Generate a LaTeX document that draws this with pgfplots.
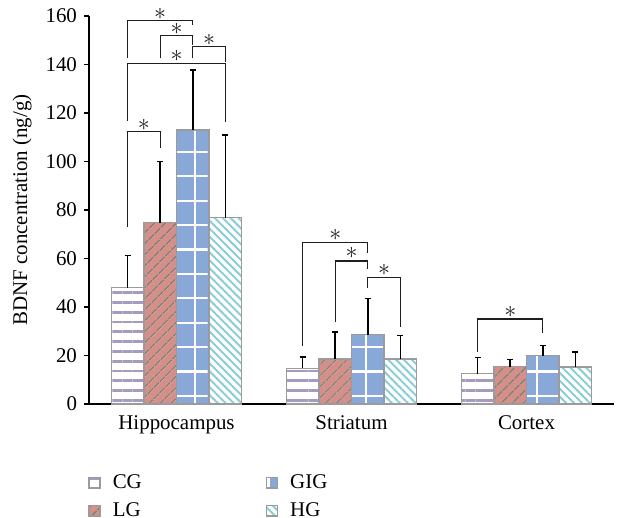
\documentclass[border=0pt]{standalone}
\usepackage{fontspec}
\setmainfont{Liberation Serif}
\usepackage{pgfplots}
\pgfplotsset{compat=1.18}
\usetikzlibrary{patterns.meta}
\definecolor{cgline}{RGB}{167,154,193}
\definecolor{lgfill}{RGB}{212,143,136}
\definecolor{lgline}{RGB}{128,128,128}
\definecolor{gigfill}{RGB}{136,168,216}
\definecolor{hgline}{RGB}{140,205,214}
\definecolor{bord}{RGB}{155,155,155}
\definecolor{brk}{RGB}{30,30,30}
\begin{document}
\begin{tikzpicture}
\path[use as bounding box] (-44.5bp,-57bp) rectangle (264bp,202bp);
\begin{axis}[
  at={(0,0)}, anchor=south west,
  scale only axis, width=262.5bp, height=194bp,
  xmin=-0.5, xmax=2.5, ymin=0, ymax=160,
  clip=false,
  axis lines*=left,
  axis line style={line width=0.6bp, black},
  xtick={0,1,2}, xticklabels={Hippocampus,Striatum,Cortex},
  x tick style={draw=none},
  ytick={0,20,...,160},
  tick align=outside, major tick length=2.5bp,
  y tick style={line width=0.6bp, black},
  font=\fontsize{10.5}{12}\selectfont,
  /pgf/number format/assume math mode=true,
  ylabel={BDNF concentration (ng/g)},
  ylabel style={at={(axis description cs:-0.1276,0.5)}, anchor=center},
  bar width=0.186,
  ybar=0pt, bar shift=0pt,
  error bars/y dir=plus, error bars/y explicit,
  error bars/error mark=-,
  error bars/error bar style={line width=0.75bp, black, solid},
  error bars/error mark options={line width=0.75bp, black, mark size=1.5bp, rotate=90},
  legend columns=2, transpose legend,
  legend style={draw=none, fill=none, at={(-0.0133,-0.16)}, anchor=north west,
    font=\fontsize{10.5}{12}\selectfont, row sep=1.5bp,
    /tikz/every even column/.append style={column sep=60bp}},
  legend cell align=left,
  legend image code/.code={\draw[#1] (0bp,-2.6bp) rectangle (5.5bp,2.6bp); \path (0bp,0bp) (9.5bp,0bp);},
]
\addplot[draw=bord, line width=0.7bp, fill=white,
  postaction={pattern={Lines[angle=0,distance=4.9bp,line width=1.4bp]}, pattern color=cgline}]
  coordinates {(-0.279,48) +- (0,13.2) (0.721,14.7) +- (0,4.7) (1.721,12.5) +- (0,6.6)};
\addlegendentry{CG}
\addplot[draw=bord, line width=0.7bp, fill=lgfill,
  postaction={pattern={Lines[angle=45,distance=3.9bp,line width=0.75bp]}, pattern color=lgline}]
  coordinates {(-0.093,74.8) +- (0,25.2) (0.907,18.6) +- (0,11) (1.907,15.4) +- (0,3)};
\addlegendentry{LG}
\addplot[draw=bord, line width=0.7bp, fill=gigfill,
  postaction={pattern={Hatch[angle=0,distance=12.2bp,line width=1.1bp]}, pattern color=white}]
  coordinates {(0.093,113) +- (0,24.7) (1.093,28.6) +- (0,14.9) (2.093,20) +- (0,4.2)};
\addlegendentry{GIG}
\addplot[draw=bord, line width=0.7bp, fill=white,
  postaction={pattern={Lines[angle=-45,distance=2.8bp,line width=1bp]}, pattern color=hgline}]
  coordinates {(0.279,76.8) +- (0,34.2) (1.279,18.5) +- (0,9.7) (2.279,15.3) +- (0,6.2)};
\addlegendentry{HG}
% significance brackets
\addplot[sharp plot, brk, line width=0.65bp, forget plot, error bars/y dir=none] coordinates {(-0.279,142.5)(-0.279,158.2)(0.093,158.2)(0.093,156.3)};
\addplot[sharp plot, brk, line width=0.65bp, forget plot, error bars/y dir=none] coordinates {(-0.093,142.5)(-0.093,151.9)(0.093,151.9)(0.093,148)};
\addplot[sharp plot, brk, line width=0.65bp, forget plot, error bars/y dir=none] coordinates {(0.093,142.7)(0.093,147.3)(0.279,147.3)(0.279,141)};
\addplot[sharp plot, brk, line width=0.65bp, forget plot, error bars/y dir=none] coordinates {(-0.279,116.8)(-0.279,140.5)(0.279,140.5)(0.279,116.4)};
\addplot[sharp plot, brk, line width=0.65bp, forget plot, error bars/y dir=none] coordinates {(-0.279,73.1)(-0.279,112.3)(-0.093,112.3)(-0.093,105.7)};
\addplot[sharp plot, brk, line width=0.65bp, forget plot, error bars/y dir=none] coordinates {(0.721,23.9)(0.721,66.7)(1.093,66.7)(1.093,62.3)};
\addplot[sharp plot, brk, line width=0.65bp, forget plot, error bars/y dir=none] coordinates {(0.907,34)(0.907,59)(1.093,59)(1.093,55.5)};
\addplot[sharp plot, brk, line width=0.65bp, forget plot, error bars/y dir=none] coordinates {(1.093,47.7)(1.093,52.2)(1.279,52.2)(1.279,31.9)};
\addplot[sharp plot, brk, line width=0.65bp, forget plot, error bars/y dir=none] coordinates {(1.721,21.6)(1.721,35)(2.093,35)(2.093,29.4)};
\begin{scope}[every node/.style={brk, font=\fontsize{12}{12}\selectfont, inner sep=0pt}]
\node at (axis cs:-0.093,160.8) {$\ast$};
\node at (axis cs:0,154.8) {$\ast$};
\node at (axis cs:0.186,150.2) {$\ast$};
\node at (axis cs:0,143.6) {$\ast$};
\node at (axis cs:-0.186,115.2) {$\ast$};
\node at (axis cs:0.907,69.8) {$\ast$};
\node at (axis cs:1.0,62.3) {$\ast$};
\node at (axis cs:1.186,55.3) {$\ast$};
\node at (axis cs:1.907,38) {$\ast$};
\end{scope}
\end{axis}
\end{tikzpicture}
\end{document}
